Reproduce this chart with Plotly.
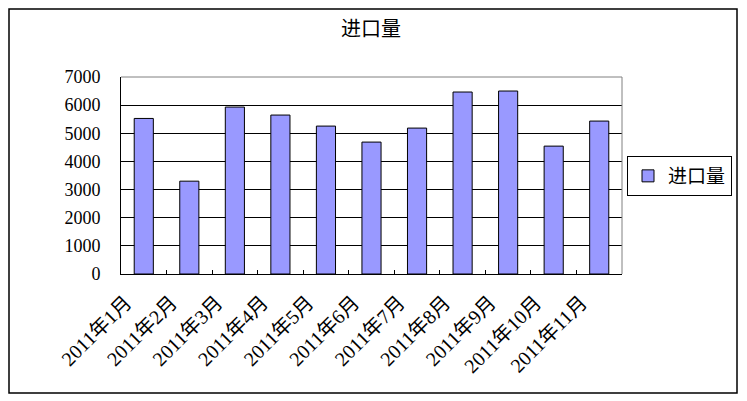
import plotly.graph_objects as go

categories = ["2011年1月", "2011年2月", "2011年3月", "2011年4月", "2011年5月", "2011年6月",
              "2011年7月", "2011年8月", "2011年9月", "2011年10月", "2011年11月"]
values = [5527, 3299, 5932, 5648, 5256, 4687, 5185, 6466, 6502, 4544, 5434]
series_name = "进口量"
y_ticks = [0, 1000, 2000, 3000, 4000, 5000, 6000, 7000]

FONT = "Liberation Serif, Noto Sans CJK SC"

OFF = 8  # page body margin
W, H = 747 - OFF, 401 - OFF
L, R, T, B = 121 - OFF, 622 - OFF, 77 - OFF, 274 - OFF
pw, ph = R - L, B - T

def px(x):
    return (x - OFF - L) / pw

def py(y):
    return (B - (y - OFF)) / ph

fig = go.Figure(go.Bar(
    x=categories, y=values, name=series_name,
    marker=dict(color="#9999FF", line=dict(color="black", width=1)),
    showlegend=True,
))

fig.update_layout(
    width=W, height=H,
    margin=dict(l=L, r=W - R, t=T, b=H - B),
    paper_bgcolor="white", plot_bgcolor="white",
    font=dict(family=FONT, size=17, color="black"),
    bargap=0.58,
    title=dict(text=series_name, x=px(371), xref="paper", xanchor="center",
               y=1 - (29 - OFF) / H, yanchor="middle", font=dict(size=20)),
    legend=dict(x=px(627), y=py(176), xanchor="left", yanchor="middle",
                bordercolor="black", borderwidth=1, font=dict(size=19),
                itemwidth=30, tracegroupgap=0),
    showlegend=True,
    xaxis=dict(showline=True, linecolor="black", linewidth=1,
               ticks="inside", ticklen=4, tickcolor="black", tickson="boundaries",
               tickangle=-45, showgrid=False, tickfont=dict(size=20),
               ticklabelshift=-18, ticklabelstandoff=8),
    yaxis=dict(range=[0, 7000], tickvals=y_ticks, showgrid=True, gridcolor="black",
               gridwidth=1, showline=True, linecolor="black", linewidth=1,
               ticks="", ticklabelstandoff=16, tickfont=dict(size=18), zeroline=False),
    shapes=[
        dict(type="line", xref="paper", yref="paper", x0=0, x1=1, y0=1, y1=1,
             line=dict(color="#808080", width=1), layer="above"),
        dict(type="line", xref="paper", yref="paper", x0=1, x1=1, y0=0, y1=1,
             line=dict(color="#808080", width=1), layer="above"),
        dict(type="rect", xref="paper", yref="paper", x0=px(9), x1=px(737),
             y0=py(393), y1=py(9), line=dict(color="black", width=1.5)),
    ],
)

fig.write_html("out.html")
